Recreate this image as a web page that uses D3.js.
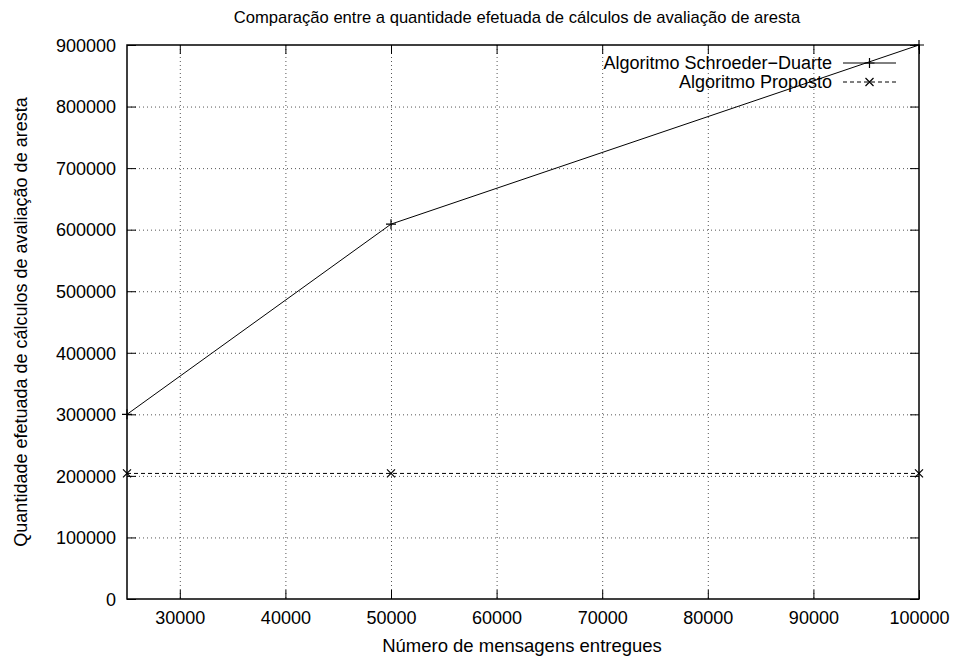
<!DOCTYPE html>
<html><head><meta charset="utf-8">
<script src="https://cdn.jsdelivr.net/npm/d3@7"></script>
<style>body{margin:0;background:#fff}svg{display:block}text{font-family:"Liberation Sans",Arial,sans-serif;fill:#000}</style>
</head><body>
<svg id="c" width="956" height="657"></svg>
<script>
const title = "Comparação entre a quantidade efetuada de cálculos de avaliação de aresta";
const xLabel = "Número de mensagens entregues";
const yLabel = "Quantidade efetuada de cálculos de avaliação de aresta";
const xValues = [25000, 50000, 100000];
const schroederValues = [300000, 609000, 900000];
const propostoValues = [204000, 204000, 204000];
const seriesNames = ["Algoritmo Schroeder−Duarte", "Algoritmo Proposto"];
const xTicks = [30000, 40000, 50000, 60000, 70000, 80000, 90000, 100000];
const yTicks = [0, 100000, 200000, 300000, 400000, 500000, 600000, 700000, 800000, 900000];

const L = 127, R = 919, T = 45, B = 599;
const svg = d3.select("#c");
const x = d3.scaleLinear().domain([25000, 100000]).range([L, R]);
const y = d3.scaleLinear().domain([0, 900000]).range([B, T]);
const fs = 18;

// grid
const g = svg.append("g").attr("stroke", "#555").attr("stroke-width", 1).attr("stroke-dasharray", "1,3");
xTicks.filter(v => v < 100000).forEach(v => g.append("line").attr("x1", x(v)+0.5).attr("x2", x(v)+0.5).attr("y1", T).attr("y2", B));
yTicks.filter(v => v > 0 && v < 900000).forEach(v => g.append("line").attr("x1", L).attr("x2", R).attr("y1", y(v)+0.5).attr("y2", y(v)+0.5));

// axes with mirrored inward ticks
const tl = 9;
const axB = svg.append("g").attr("transform", `translate(0,${B})`).call(d3.axisBottom(x).tickValues(xTicks).tickSize(-tl).tickPadding(12).tickFormat(d3.format("d")));
const axT = svg.append("g").attr("transform", `translate(0,${T})`).call(d3.axisTop(x).tickValues(xTicks).tickSize(-tl).tickFormat(""));
const axL = svg.append("g").attr("transform", `translate(${L},0)`).call(d3.axisLeft(y).tickValues(yTicks).tickSize(-tl).tickPadding(11).tickFormat(d3.format("d")));
const axR = svg.append("g").attr("transform", `translate(${R},0)`).call(d3.axisRight(y).tickValues(yTicks).tickSize(-tl).tickFormat(""));
[axB, axT, axL, axR].forEach(a => {
  a.select(".domain").remove();
  a.selectAll("line").attr("stroke", "#000").attr("stroke-width", 1);
  a.selectAll("text").attr("font-size", fs).attr("font-family", "Liberation Sans, Arial, sans-serif");
});
axL.selectAll("text").attr("dy", "0.35em");
svg.append("rect").attr("x", L).attr("y", T).attr("width", R-L).attr("height", B-T).attr("fill", "none").attr("stroke", "#000").attr("stroke-width", 1.5);

// series
const line = d3.line().x(d => x(d[0])).y(d => y(d[1]));
const s1 = xValues.map((v,i) => [v, schroederValues[i]]);
const s2 = xValues.map((v,i) => [v, propostoValues[i]]);
svg.append("path").attr("d", line(s1)).attr("fill", "none").attr("stroke", "#000").attr("stroke-width", 1);
svg.append("path").attr("d", line(s2)).attr("fill", "none").attr("stroke", "#000").attr("stroke-width", 1).attr("stroke-dasharray", "4,3");
const m = 5;
function plus(cx, cy){ svg.append("path").attr("d", `M${cx-m},${cy}H${cx+m}M${cx},${cy-m}V${cy+m}`).attr("stroke","#000").attr("stroke-width",1.2); }
function cross(cx, cy){ const k=4; svg.append("path").attr("d", `M${cx-k},${cy-k}L${cx+k},${cy+k}M${cx-k},${cy+k}L${cx+k},${cy-k}`).attr("stroke","#000").attr("stroke-width",1.2); }
s1.forEach(d => plus(x(d[0]), y(d[1])));
s2.forEach(d => cross(x(d[0]), y(d[1])));

// legend
const lx1 = 843, lx2 = 896, ly = [63, 82];
svg.append("text").attr("x", 832).attr("y", ly[0]).attr("dy", "0.35em").attr("text-anchor", "end").attr("font-size", fs).text(seriesNames[0]);
svg.append("line").attr("x1", lx1).attr("x2", lx2).attr("y1", ly[0]).attr("y2", ly[0]).attr("stroke", "#000");
plus((lx1+lx2)/2, ly[0]);
svg.append("text").attr("x", 832).attr("y", ly[1]).attr("dy", "0.35em").attr("text-anchor", "end").attr("font-size", fs).text(seriesNames[1]);
svg.append("line").attr("x1", lx1).attr("x2", lx2).attr("y1", ly[1]).attr("y2", ly[1]).attr("stroke", "#000").attr("stroke-dasharray", "4,3");
cross((lx1+lx2)/2, ly[1]);

// titles
svg.append("text").attr("x", 517).attr("y", 23).attr("text-anchor", "middle").attr("font-size", 16.6).text(title);
svg.append("text").attr("x", 522).attr("y", 652).attr("text-anchor", "middle").attr("font-size", 18.5).text(xLabel);
svg.append("text").attr("transform", "translate(27,322) rotate(-90)").attr("text-anchor", "middle").attr("font-size", 18).text(yLabel);
</script>
</body></html>
